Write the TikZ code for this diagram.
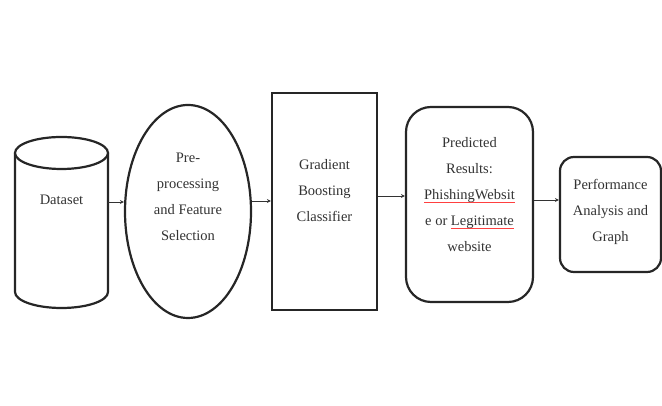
\documentclass[tikz,border=0pt]{standalone}
\usepackage{fontspec}
\setmainfont{Liberation Serif}
\usetikzlibrary{shapes.geometric,arrows.meta}
\newlength\myulw
\newcommand\redul[1]{\settowidth\myulw{#1}\rlap{\textcolor{red!75}{\rule[-3pt]{\myulw}{0.6pt}}}#1}
\begin{document}
\begin{tikzpicture}[x=1pt,y=1pt,
  border/.style={draw=black!85,line width=2.2pt,fill=white},
  lbl/.style={align=center,font=\fontsize{14.5}{26}\selectfont,text=black!80,inner sep=0pt},
  arr/.style={draw=black!80,line width=0.8pt,-{Stealth[length=4pt,width=4pt]}}]
\useasboundingbox (0,0) rectangle (662,406);
% cylinder
\node[inner sep=0pt,minimum width=93pt,minimum height=171pt] (cyl) at (61.5,183.5) {};
\draw[border] (15,253) -- (15,114) arc[start angle=180,end angle=360,x radius=46.5,y radius=16] -- (108,253);
\draw[border] (61.5,253) ellipse[x radius=46.5,y radius=16];
\node[lbl] (t1) at (61.5,206) {Dataset};
% ellipse
\node[border,ellipse,minimum width=126pt,minimum height=213pt,inner sep=0pt] (ell) at (188,194.5) {};
\node[lbl] (t2) at (188,209) {Pre-\\processing\\and Feature\\Selection};
% rectangle
\node[border,rectangle,minimum width=105pt,minimum height=217pt,inner sep=0pt] (rect) at (324.5,204.5) {};
\node[lbl] (t3) at (324.5,215) {Gradient\\Boosting\\Classifier};
% rounded rect 1
\node[border,rectangle,rounded corners=25pt,minimum width=127pt,minimum height=195pt,inner sep=0pt] (rr1) at (469.5,201.5) {};
\node[lbl] (t4) at (469.5,211) {Predicted\\Results:\\\redul{PhishingWebsit}\\e or \redul{Legitimate}\\website};
% rounded rect 2
\node[border,rectangle,rounded corners=14pt,minimum width=101pt,minimum height=115pt,inner sep=0pt] (rr2) at (610.5,191.5) {};
\node[lbl] (t5) at (610.5,194.5) {Performance\\Analysis and\\Graph};
% arrows
\coordinate (a1) at (0,204);
\coordinate (a2) at (0,205);
\coordinate (a3) at (0,210);
\coordinate (a4) at (0,206);
\draw[arr] (cyl.east |- a1) -- (ell.west |- a1);
\draw[arr] (ell.east |- a2) -- (rect.west |- a2);
\draw[arr] (rect.east |- a3) -- (rr1.west |- a3);
\draw[arr] (rr1.east |- a4) -- (rr2.west |- a4);
\end{tikzpicture}
\end{document}
